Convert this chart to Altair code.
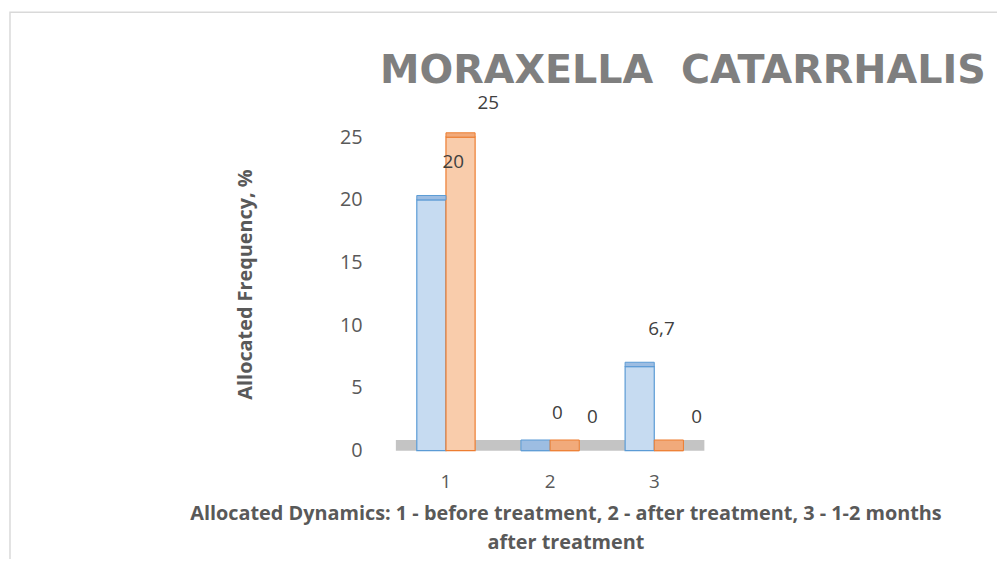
import altair as alt
import pandas as pd

# ---- data ----
categories = ["1", "2", "3"]
series = ["Series 1", "Series 2"]
blue_values = [20, 0, 6.7]
orange_values = [25, 0, 0]
blue_labels = ["20", "0", "6,7"]
orange_labels = ["25", "0", "0"]
y_ticks = [0, 5, 10, 15, 20, 25]

title_text = "MORAXELLA\u00a0\u00a0CATARRHALIS"
y_title = "Allocated Frequency, %"
x_title = ["Allocated Dynamics: 1 - before treatment, 2 - after treatment, 3 - 1-2 months",
           "after treatment"]

rows = []
for c, v, l in zip(categories, blue_values, blue_labels):
    rows.append({"category": c, "series": series[0], "value": v, "label": l})
for c, v, l in zip(categories, orange_values, orange_labels):
    rows.append({"category": c, "series": series[1], "value": v, "label": l})
df = pd.DataFrame(rows)

# ---- style ----
FONT = "Open Sans"
FLOOR = 0.85
TOP = 0.35
W, H = 315, 316
fills = ["#c6dbf1", "#f9ccab"]
tops = ["#9dbde2", "#f1aa7b"]
strokes = ["#5b9bd5", "#ed7d31"]

xenc = alt.X("category:N", sort=categories,
             scale=alt.Scale(paddingInner=0.44, paddingOuter=0.22),
             axis=alt.Axis(title=x_title, labelAngle=0, domain=False, ticks=False,
                           labelFont=FONT, labelFontSize=19, labelColor="#595959",
                           labelPadding=22, titleFont=FONT, titleFontSize=20,
                           titleFontWeight="bold", titleColor="#595959",
                           titleX=173, titleY=69, titleAlign="center",
                           titleBaseline="alphabetic", titleLineHeight=30))
yenc = alt.Y("value:Q", scale=alt.Scale(domain=[0, 25], nice=False),
             axis=alt.Axis(title=y_title, values=y_ticks, grid=False, domain=False,
                           ticks=False, labelFont=FONT, labelFontSize=20,
                           labelColor="#595959", labelPadding=32,
                           titleFont=FONT, titleFontSize=20, titleFontWeight="bold",
                           titleColor="#595959", titleX=-150, titleY=148,
                           titleAlign="center", titleBaseline="middle"))
xoff = alt.XOffset("series:N", sort=series)
fill_scale = alt.Scale(domain=series, range=fills)
stroke_scale = alt.Scale(domain=series, range=strokes)

base = alt.Chart(df)

frame = alt.Chart(alt.Data(values=[{"k": 1}])).mark_rect(
    fillOpacity=0, stroke="#d9d9d9", strokeWidth=1.5
).encode(x=alt.value(-387), x2=alt.value(720), y=alt.value(-126), y2=alt.value(500))

title = alt.Chart(alt.Data(values=[{"k": 1}])).mark_text(
    text=title_text, font="DejaVu Sans", fontSize=40, fontWeight="bold", color="#7f7f7f",
    align="left", baseline="alphabetic"
).encode(x=alt.value(-14), y=alt.value(-55))

floor = alt.Chart(alt.Data(values=[{"k": 1}])).mark_rect(color="#c4c4c4").encode(
    x=alt.value(2), x2=alt.value(313), y=alt.datum(0), y2=alt.datum(FLOOR)
)

bars = base.mark_bar(strokeWidth=1.2).encode(
    x=xenc, xOffset=xoff, y=yenc,
    fill=alt.Fill("series:N", scale=fill_scale, legend=None),
    stroke=alt.Stroke("series:N", scale=stroke_scale, legend=None),
)

topface = base.transform_calculate(
    top=f"datum.value + (datum.value == 0 ? {FLOOR} : {TOP})"
).mark_bar(strokeWidth=1, clip=False).encode(
    x=xenc, xOffset=xoff, y="value:Q", y2="top:Q",
    fill=alt.Fill("series:N", scale=alt.Scale(domain=series, range=tops), legend=None),
    stroke=alt.Stroke("series:N", scale=stroke_scale, legend=None),
)

lab_blue = base.transform_filter(alt.datum.series == series[0]).mark_text(
    font=FONT, fontSize=19, color="#404040", dx=22, dy=-38
).encode(x=xenc, xOffset=xoff, y="value:Q", text="label:N")

lab_orange = base.transform_filter(alt.datum.series == series[1]).mark_text(
    font=FONT, fontSize=19, color="#404040", dx=28, dy=-34
).encode(x=xenc, xOffset=xoff, y="value:Q", text="label:N")

chart = alt.layer(frame, title, floor, bars, topface, lab_blue, lab_orange).resolve_scale(
    fill="independent"
).properties(
    width=W, height=H,
    autosize=alt.AutoSizeParams(type="none"),
    padding={"left": 389, "top": 128, "right": 293, "bottom": 107},
).configure_view(stroke=None)

chart.save("out.html", embed_options={"renderer": "svg", "actions": False})
